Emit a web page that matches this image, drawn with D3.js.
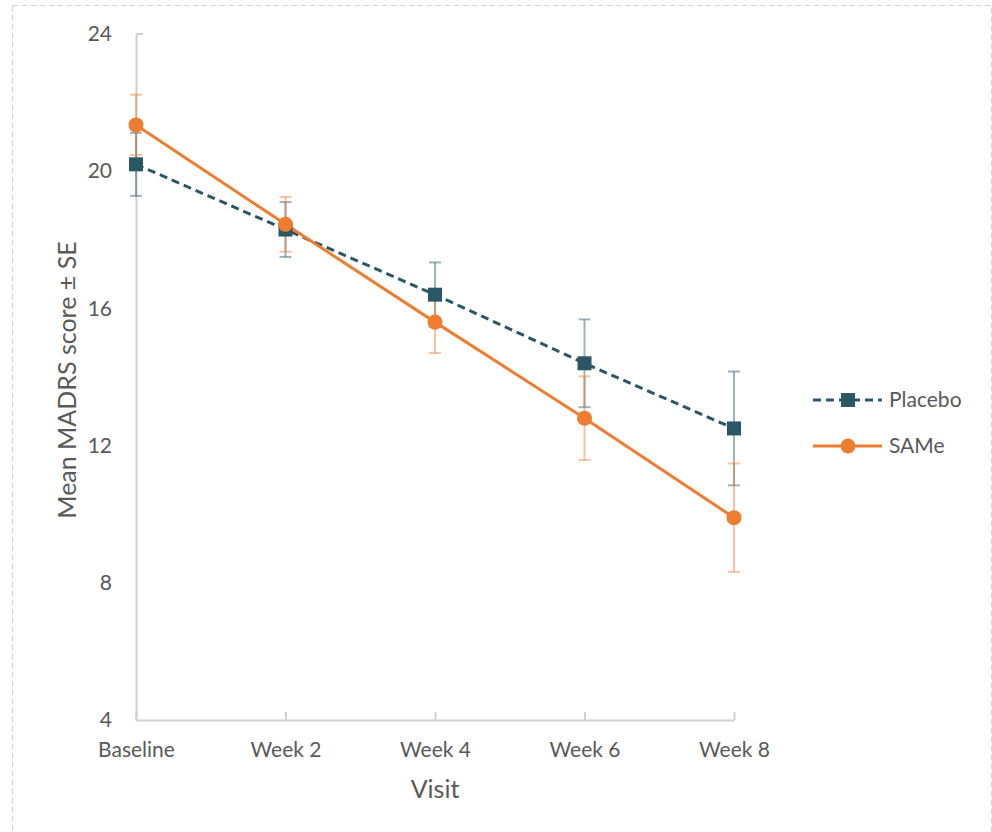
<!DOCTYPE html>
<html>
<head>
<meta charset="utf-8">
<script src="https://cdn.jsdelivr.net/npm/d3@7"></script>
<style>
  html, body { margin: 0; padding: 0; background: #fff; }
  svg { display: block; }
  text { font-family: Lato, "Open Sans", sans-serif; fill: #595959; }
</style>
</head>
<body>
<svg id="chart" width="992" height="832"></svg>
<script>
const visits = ["Baseline", "Week 2", "Week 4", "Week 6", "Week 8"];
const placeboMean = [20.2, 18.3, 16.4, 14.4, 12.5];
const placeboSE   = [0.92, 0.8, 0.94, 1.28, 1.66];
const sameMean    = [21.35, 18.45, 15.6, 12.8, 9.9];
const sameSE      = [0.88, 0.8, 0.9, 1.22, 1.58];
const yTicks = [4, 8, 12, 16, 20, 24];
const seriesNames = ["Placebo", "SAMe"];

const colors = { Placebo: "#2a5766", SAMe: "#ee7d31" };
const fontFam = "Lato, 'Open Sans', sans-serif";

const svg = d3.select("#chart");

// outer dashed border
svg.append("rect")
  .attr("x", 12.5).attr("y", 5.5)
  .attr("width", 979).attr("height", 860)
  .attr("fill", "none").attr("stroke", "#d6d6d6")
  .attr("stroke-width", 1.2).attr("stroke-dasharray", "6,3");

const x = d3.scalePoint().domain(visits).range([136, 734]);
const y = d3.scaleLinear().domain([4, 24]).range([720, 34]);

const axisColor = "#d0d0d0";

// y axis
const yAxis = svg.append("g").attr("transform", "translate(136,0)")
  .call(d3.axisLeft(y).tickValues(yTicks).tickSize(0).tickPadding(24).tickFormat(d3.format("d")));
yAxis.select(".domain").attr("stroke", axisColor).attr("stroke-width", 2);
yAxis.selectAll("text").style("font-size", "21px").attr("fill", "#595959")
  .style("font-family", fontFam);
// small top tick
svg.append("line").attr("x1", 136).attr("x2", 143).attr("y1", y(24)).attr("y2", y(24))
  .attr("stroke", axisColor).attr("stroke-width", 2);

// x axis
const xAxis = svg.append("g").attr("transform", "translate(0,720)")
  .call(d3.axisBottom(x).tickSize(-8).tickSizeOuter(0).tickPadding(22));
xAxis.select(".domain").attr("stroke", axisColor).attr("stroke-width", 2);
xAxis.selectAll(".tick line").attr("stroke", axisColor).attr("stroke-width", 2);
xAxis.selectAll("text").style("font-size", "21px").attr("fill", "#595959")
  .style("font-family", fontFam);

// axis titles
svg.append("text").attr("x", 435).attr("y", 798).attr("text-anchor", "middle")
  .style("font-size", "25px").text("Visit");
svg.append("text").attr("transform", "translate(76,380) rotate(-90)")
  .attr("text-anchor", "middle").style("font-size", "25px").text("Mean MADRS score ± SE");

const series = [
  { name: "Placebo", mean: placeboMean, se: placeboSE, dash: "8,5", marker: "square" },
  { name: "SAMe", mean: sameMean, se: sameSE, dash: null, marker: "circle" }
];

// error bars
series.forEach(s => {
  const g = svg.append("g").attr("stroke", colors[s.name]).attr("stroke-opacity", 0.45).attr("stroke-width", 2);
  visits.forEach((v, i) => {
    const cx = x(v), top = y(s.mean[i] + s.se[i]), bot = y(s.mean[i] - s.se[i]);
    g.append("line").attr("x1", cx).attr("x2", cx).attr("y1", top).attr("y2", bot);
    g.append("line").attr("x1", cx - 6).attr("x2", cx + 6).attr("y1", top).attr("y2", top);
    g.append("line").attr("x1", cx - 6).attr("x2", cx + 6).attr("y1", bot).attr("y2", bot);
  });
});

// lines
const line = d3.line().x(d => x(d[0])).y(d => y(d[1]));
series.forEach(s => {
  svg.append("path")
    .attr("d", line(visits.map((v, i) => [v, s.mean[i]])))
    .attr("fill", "none").attr("stroke", colors[s.name]).attr("stroke-width", 3)
    .attr("stroke-dasharray", s.dash);
});

function drawMarker(g, type, cx, cy, color) {
  if (type === "square") {
    g.append("rect").attr("x", cx - 7).attr("y", cy - 7).attr("width", 14).attr("height", 14)
      .attr("fill", color);
  } else {
    g.append("circle").attr("cx", cx).attr("cy", cy).attr("r", 7.5).attr("fill", color);
  }
}

// markers
series.forEach(s => {
  const g = svg.append("g");
  visits.forEach((v, i) => drawMarker(g, s.marker, x(v), y(s.mean[i]), colors[s.name]));
});

// legend
const legendY = [400, 446];
series.forEach((s, i) => {
  const g = svg.append("g");
  const ly = legendY[i];
  g.append("line").attr("x1", 813).attr("x2", 882).attr("y1", ly).attr("y2", ly)
    .attr("stroke", colors[s.name]).attr("stroke-width", 3).attr("stroke-dasharray", s.dash);
  drawMarker(g, s.marker, 848, ly, colors[s.name]);
  g.append("text").attr("x", 889).attr("y", ly).attr("dy", "0.35em")
    .style("font-size", "21px").text(seriesNames[i]);
});
</script>
</body>
</html>
